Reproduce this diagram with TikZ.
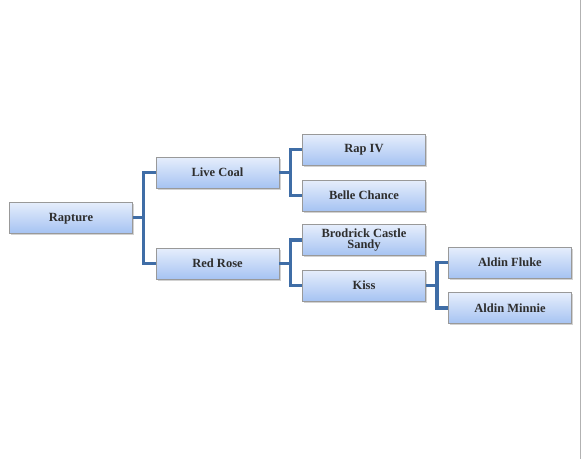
\documentclass[tikz,border=0pt]{standalone}
\usepackage{fontspec}
\setmainfont{Liberation Serif}
\usepackage{tikz}
\usetikzlibrary{positioning, shadows}
\definecolor{boxtop}{HTML}{E6EEFC}
\definecolor{boxbot}{HTML}{A6C3F2}
\definecolor{linkblue}{HTML}{3F6DA6}
\definecolor{textgray}{HTML}{2E2E2E}

\begin{document}
\begin{tikzpicture}[
        x=1pt, y=-1pt,
        horse/.style={rectangle, draw=gray!80, line width=0.8pt, top color=boxtop, bottom color=boxbot,
            minimum width=123pt, minimum height=31pt, inner sep=1pt, align=center,
            text=textgray, font=\fontsize{12.5}{11.5}\selectfont\bfseries,
            drop shadow={shadow xshift=1.5pt, shadow yshift=-1.5pt, opacity=0.35}},
        link/.style={draw=linkblue, line width=3.2pt}
    ]
        \useasboundingbox[fill=white] (0,0) rectangle (582,459);
        \draw[gray!60, line width=1pt] (580,0) -- (580,459);

        % Generation 1
        \node[horse, text depth=0pt] (rapture) at (71, 217.5) {Rapture};

        % Generation 2
        \node[horse, text depth=0pt] (livecoal) at (217.5, 172.5) {Live Coal};
        \node[horse, text depth=0pt] (redrose) at (217.5, 263.5) {Red Rose};

        % Generation 3
        \node[horse] (rapiv) at (364, 149.5) {Rap IV};
        \node[horse, text depth=0pt] (belle) at (364, 195.5) {Belle Chance};
        \node[horse] (brodrick) at (364, 240) {Brodrick Castle\\Sandy};
        \node[horse, text depth=0pt] (kiss) at (364, 285.5) {Kiss};

        % Generation 4
        \node[horse, text depth=0pt] (fluke) at (510, 262.5) {Aldin Fluke};
        \node[horse, text depth=0pt] (minnie) at (510, 308) {Aldin Minnie};

        % Junctions
        \coordinate (j1) at (143.5, 217.5);
        \coordinate (j2) at (290.5, 172.5);
        \coordinate (j3) at (290.5, 263.5);
        \coordinate (j4) at (437, 285.5);

        % Connectors
        \draw[link] (rapture.east) -- (j1);
        \draw[link] (j1) |- (livecoal.west);
        \draw[link] (j1) |- (redrose.west);
        \draw[link] (livecoal.east) -- (j2);
        \draw[link] (j2) |- (rapiv.west);
        \draw[link] (j2) |- (belle.west);
        \draw[link] (redrose.east) -- (j3);
        \draw[link] (j3) |- (brodrick.west);
        \draw[link] (j3) |- (kiss.west);
        \draw[link] (kiss.east) -- (j4);
        \draw[link] (j4) |- (fluke.west);
        \draw[link] (j4) |- (minnie.west);
    \end{tikzpicture}
\end{document}
